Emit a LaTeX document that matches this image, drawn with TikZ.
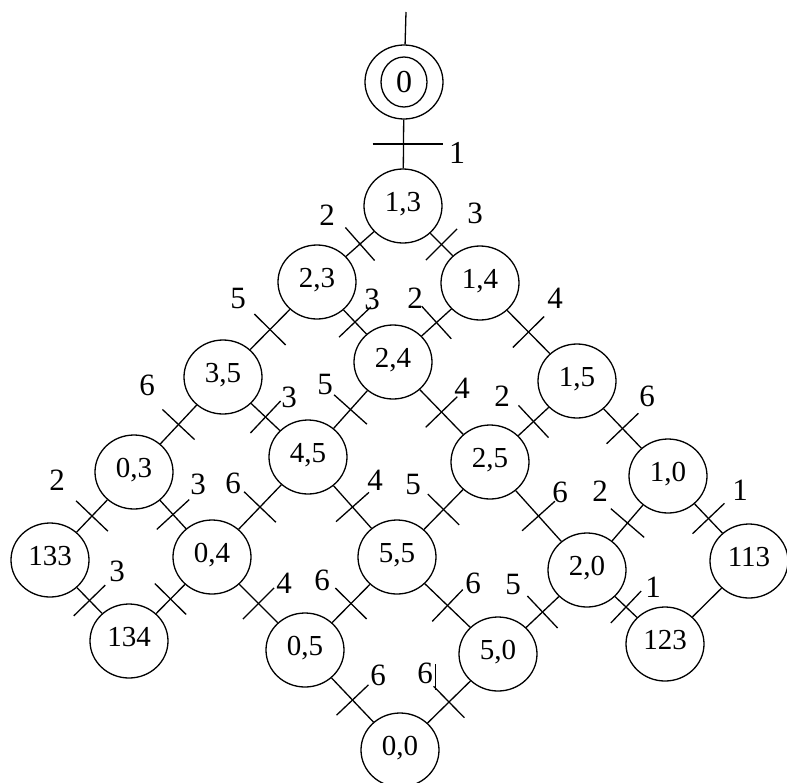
\documentclass[tikz,border=0pt]{standalone}
\usepackage{fontspec}
\setmainfont{Liberation Serif}
\usetikzlibrary{calc,shapes.geometric}

% edge with a transition bar across its middle and a label
\newcommand\arcbar[6][22pt]{%
  \draw[arc] (#2) -- (#3);
  \draw[arc] ($(#2)!0.5!(#3)!#1!90:(#3)$) -- ($(#2)!0.5!(#3)!#1!-90:(#3)$);
  \node[lbl] (#4) at (#5) {#6};
}
% same, without a label
\newcommand\arcbarbare[3][22pt]{%
  \draw[arc] (#2) -- (#3);
  \draw[arc] ($(#2)!0.5!(#3)!#1!90:(#3)$) -- ($(#2)!0.5!(#3)!#1!-90:(#3)$);
}

\begin{document}
\begin{tikzpicture}[x=1pt,y=-1pt,
  arc/.style={line width=1.3pt},
  stbase/.style={draw,ellipse,line width=1.3pt,minimum width=78pt,minimum height=74pt,inner sep=0pt},
  state/.style={stbase,text height=16pt,text depth=6pt,font=\fontsize{29}{31}\selectfont},
  initstate/.style={stbase,font=\fontsize{32}{34}\selectfont},
  lbl/.style={inner sep=0pt,font=\fontsize{31}{33}\selectfont},
  biglbl/.style={inner sep=0pt,font=\fontsize{32}{34}\selectfont}]
\useasboundingbox (0,0) rectangle (787,782);

% markings
\node[initstate] (m0) at (404,82) {0};
\draw[arc] (m0.center) ellipse [x radius=23pt, y radius=25pt];
\node[state] (m13)  at (403,206) {1,3};
\node[state] (m23)  at (317,282) {2,3};
\node[state] (m14)  at (480,283) {1,4};
\node[state] (m24)  at (393,362) {2,4};
\node[state] (m35)  at (223,377) {3,5};
\node[state] (m15)  at (577,381) {1,5};
\node[state] (m03)  at (134,472) {0,3};
\node[state] (m45)  at (308,457) {4,5};
\node[state] (m25)  at (490,462) {2,5};
\node[state] (m10)  at (668,476) {1,0};
\node[state] (m133) at (50,560)  {133};
\node[state] (m04)  at (212,557) {0,4};
\node[state] (m55)  at (397,557) {5,5};
\node[state] (m20)  at (587,570) {2,0};
\node[state] (m113) at (749,561) {113};
\node[state] (m134) at (129,641) {134};
\node[state] (m05)  at (305,650) {0,5};
\node[state] (m50)  at (498,654) {5,0};
\node[state] (m123) at (665,644) {123};
\node[state] (m00)  at (400,750) {0,0};

% entry into the initial marking
\coordinate (entry) at (406,12);
\draw[arc] (entry) -- (m0);

% transitions
\draw[arc] (m0) -- (m13);
\draw[arc] ($(m0)!0.5!(m13)+(-31,0)$) -- ($(m0)!0.5!(m13)+(39,0)$);
\node[biglbl] (t1) at (457,153) {1};

\arcbar{m13}{m23}{t2}{327,215}{2}
\arcbar{m13}{m14}{t3}{475,213}{3}
\arcbar{m23}{m35}{t4}{238,298}{5}
\arcbar{m23}{m24}{t5}{372,299}{3}
\arcbar{m14}{m24}{t6}{415,298}{2}
\arcbar{m14}{m15}{t7}{555,298}{4}
\arcbar{m35}{m03}{t8}{147,385}{6}
\arcbar{m35}{m45}{t9}{289,397}{3}
\arcbar{m24}{m45}{t10}{325,384}{5}
\arcbar{m24}{m25}{t11}{462,388}{4}
\arcbar{m15}{m25}{t12}{502,396}{2}
\arcbar{m15}{m10}{t13}{647,396}{6}
\arcbar{m03}{m133}{t14}{57,480}{2}
\arcbar{m03}{m04}{t15}{198,484}{3}
\arcbar{m45}{m04}{t16}{233,483}{6}
\arcbar{m45}{m55}{t17}{375,480}{4}
\arcbar{m25}{m55}{t18}{413,484}{5}
\arcbar{m25}{m20}{t19}{560,492}{6}
\arcbar{m10}{m20}{t20}{600,491}{2}
\arcbar{m10}{m113}{t21}{740,490}{1}
\arcbar{m133}{m134}{t22}{117,571}{3}
\arcbarbare{m04}{m134}
\arcbar{m04}{m05}{t24}{284,583}{4}
\arcbar{m55}{m05}{t25}{322,580}{6}
\arcbar{m55}{m50}{t26}{473,583}{6}
\arcbar{m20}{m50}{t27}{513,584}{5}
\arcbar{m20}{m123}{t28}{653,587}{1}
\draw[arc] (m113) -- (m123);
\arcbar{m05}{m00}{t30}{378,675}{6}
\arcbar{m50}{m00}{t31}{425,673}{6}

% text cursor mark
\draw[line width=0.9pt] (435,664) -- (435,690);
\end{tikzpicture}
\end{document}
